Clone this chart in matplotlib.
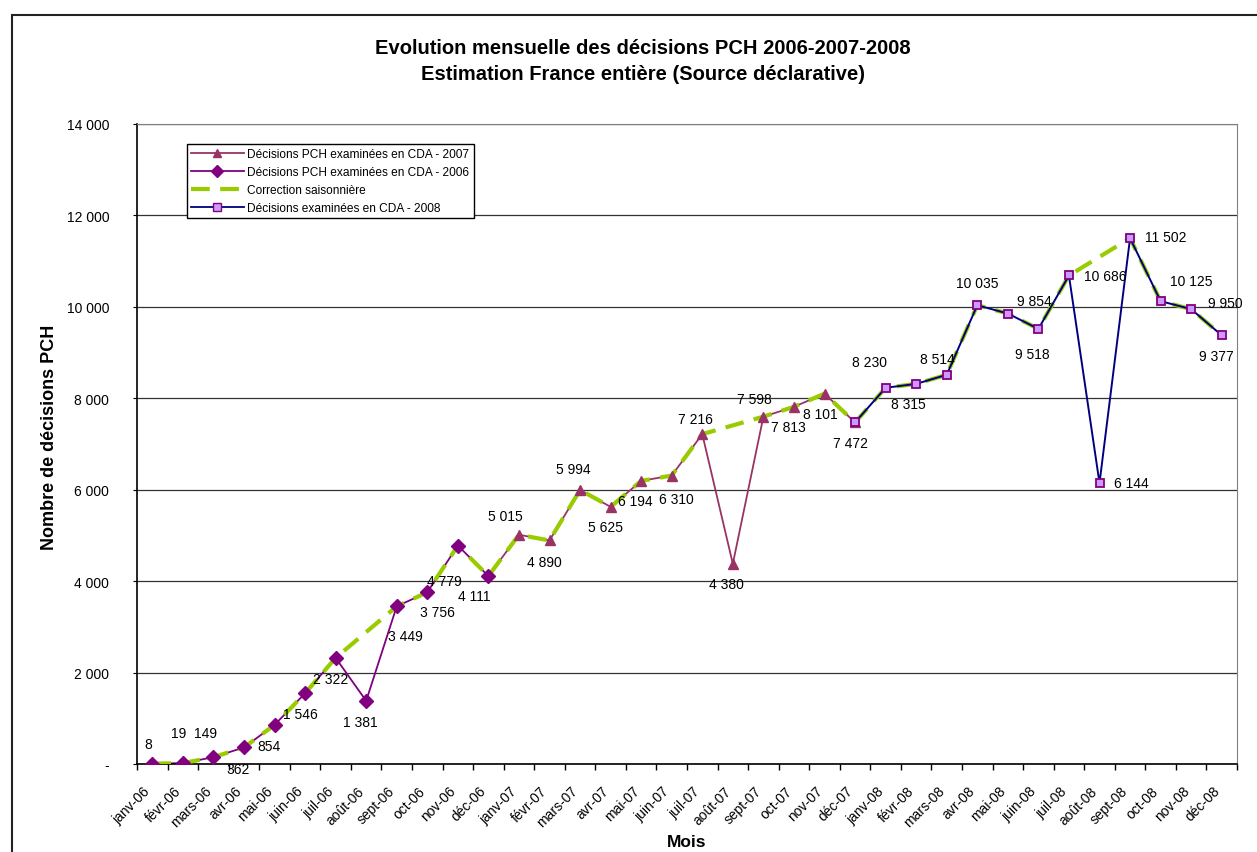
import numpy as np
import matplotlib
matplotlib.use("Agg")
import matplotlib.pyplot as plt
from matplotlib.lines import Line2D
from matplotlib.patches import Rectangle
from matplotlib.ticker import FuncFormatter

plt.rcParams['font.family'] = ['Liberation Sans', 'DejaVu Sans']

####### Data

months = ['janv-06', 'févr-06', 'mars-06', 'avr-06', 'mai-06', 'juin-06', 'juil-06', 'août-06',
          'sept-06', 'oct-06', 'nov-06', 'déc-06',
          'janv-07', 'févr-07', 'mars-07', 'avr-07', 'mai-07', 'juin-07', 'juil-07', 'août-07',
          'sept-07', 'oct-07', 'nov-07', 'déc-07',
          'janv-08', 'févr-08', 'mars-08', 'avr-08', 'mai-08', 'juin-08', 'juil-08', 'août-08',
          'sept-08', 'oct-08', 'nov-08', 'déc-08']

dec_2006 = [8, 19, 149, 362, 854, 1546, 2322, 1381, 3449, 3756, 4779, 4111]
dec_2007 = [5015, 4890, 5994, 5625, 6194, 6310, 7216, 4380, 7598, 7813, 8101, 7472]
dec_2008 = [8230, 8315, 8514, 10035, 9854, 9518, 10686, 6144, 11502, 10125, 9950, 9377]

# mois ecartes pour la correction saisonniere (aout)
excluded = ['août-06', 'août-07', 'août-08']

# label offsets in pixels (dx, dy) for each point
off_2006 = [(-4, 20), (-4, 30), (-8, 24), (-6, -22), (-6, -21), (-5, -21), (-5, -21), (-6, -21),
            (9, -30), (10, -20), (-13, -35), (-14, -20)]
off_2007 = [(-14, 19), (-5, -22), (-7, 21), (-5, -20), (-6, -20), (5, -23), (-7, 15), (-6, -20),
            (-9, 18), (-6, -20), (-4, -20), (-5, -21)]
off_2008 = [(-16, 26), (-8, -20), (-9, 16), (0, 22), (27, 13), (-6, -25), (36, -1), (32, 0),
            (36, 1), (31, 20), (34, 6), (-5, -21)]

####### Chart

col_2007 = '#993366'
col_2006 = '#800080'
col_corr = '#99CC00'
col_2008 = '#000080'

W, H = 1257, 853
fig = plt.figure(figsize=(W / 100, H / 100), dpi=100)
ax = fig.add_axes([137 / W, 1 - 765 / H, (1237 - 137) / W, (765 - 125) / H])

x = np.arange(len(months))
values = dec_2006 + dec_2007 + dec_2008

# lines
ax.plot(x[11:24], ([dec_2006[-1]] + dec_2007), color=col_2007, lw=1.3, zorder=2)
ax.plot(x[0:12], dec_2006, color=col_2006, lw=1.3, zorder=2.1)
corr_x = [i for i, m in enumerate(months) if m not in excluded]
corr_y = [values[i] for i in corr_x]
ax.plot(corr_x, corr_y, color=col_corr, lw=3, ls=(0, (4.5, 2.5)), zorder=3)
ax.plot(x[23:36], ([dec_2007[-1]] + dec_2008), color=col_2008, lw=1.4, zorder=4)

# markers
ax.plot(x[12:24], dec_2007, ls='none', marker='^', ms=6.8, color=col_2007, zorder=5)
ax.plot(x[0:12], dec_2006, ls='none', marker='D', ms=7.6, color=col_2006, zorder=5)
ax.plot(x[23:36], [dec_2007[-1]] + dec_2008, ls='none', marker='s', ms=6,
        mfc='#CC99FF', mec=col_2006, mew=1.3, zorder=6)

# data labels
def fmt(v):
    return '{:,}'.format(v).replace(',', ' ')

offsets = off_2006 + off_2007 + off_2008
for i, v in enumerate(values):
    dx, dy = offsets[i]
    ax.annotate(fmt(v), (x[i], v), xytext=(dx, dy), textcoords='offset pixels',
                ha='center', va='center', fontsize=10, zorder=7)

# axes
ax.set_xlim(-0.5, len(months) - 0.5)
ax.set_ylim(0, 14000)
ax.set_yticks(np.arange(0, 14001, 2000))
ax.yaxis.set_major_formatter(FuncFormatter(lambda v, p: '-' if v == 0 else fmt(int(v))))
ax.grid(axis='y', color='#333333', lw=0.9)
ax.set_axisbelow(True)

# labels sit slightly left of the category centre, like Excel
ax.set_xticks(x - 0.3)
ax.set_xticklabels(months, rotation=45, ha='right', va='top', rotation_mode='anchor', fontsize=10)
ax.set_xticks(np.arange(-0.5, len(months), 1), minor=True)
ax.tick_params(axis='x', which='major', length=0, pad=14)
ax.tick_params(axis='x', which='minor', length=4, width=1, direction='out')
ax.tick_params(axis='y', length=3, pad=17, labelsize=10)

for s in ['top', 'right']:
    ax.spines[s].set_color('#808080')
ax.spines['left'].set_color('black')
ax.spines['bottom'].set_color('black')
ax.spines['left'].set_linewidth(1.2)
ax.spines['bottom'].set_linewidth(1.2)

ax.set_ylabel('Nombre de décisions PCH', fontsize=13, fontweight='bold')
ax.set_xlabel('Mois', fontsize=12.5, fontweight='bold')
ax.yaxis.label.set_va('center')
ax.xaxis.label.set_va('center')
ax.yaxis.set_label_coords((50 - 137) / 1100, (765 - 437) / 640)
ax.xaxis.set_label_coords((687 - 137) / 1100, -(843 - 765) / 640)

fig.text(643 / W, 1 - 48 / H, 'Evolution mensuelle des décisions PCH 2006-2007-2008',
         ha='center', va='center', fontsize=14.5, fontweight='bold')
fig.text(643 / W, 1 - 75 / H, 'Estimation France entière (Source déclarative)',
         ha='center', va='center', fontsize=14.5, fontweight='bold')

# legend
handles = [
    Line2D([], [], color=col_2007, lw=1.3, marker='^', ms=6),
    Line2D([], [], color=col_2006, lw=1.3, marker='D', ms=6),
    Line2D([], [], color=col_corr, lw=3, ls=(0, (4.5, 2.5))),
    Line2D([], [], color=col_2008, lw=1.3, marker='s', ms=5.5, mfc='#CC99FF', mec=col_2006),
]
labels = ['Décisions PCH examinées en CDA - 2007', 'Décisions PCH examinées en CDA - 2006',
          'Correction saisonnière', 'Décisions examinées en CDA - 2008']
leg = ax.legend(handles, labels, loc='upper left', bbox_to_anchor=((187 - 137) / 1100, (765 - 145) / 640),
                borderaxespad=0, fontsize=8.6, handlelength=4.4, labelspacing=0.5,
                fancybox=False, edgecolor='black', framealpha=1, borderpad=0.35, handletextpad=0.3)
leg.get_frame().set_linewidth(1)
leg.set_zorder(10)

# outer frame
fig.patches.append(Rectangle((12 / W, -0.1), 1.2, 1 - 16 / H + 0.1, transform=fig.transFigure,
                             fill=False, edgecolor='#222222', lw=1.5))

plt.savefig('out.png', dpi=100)
